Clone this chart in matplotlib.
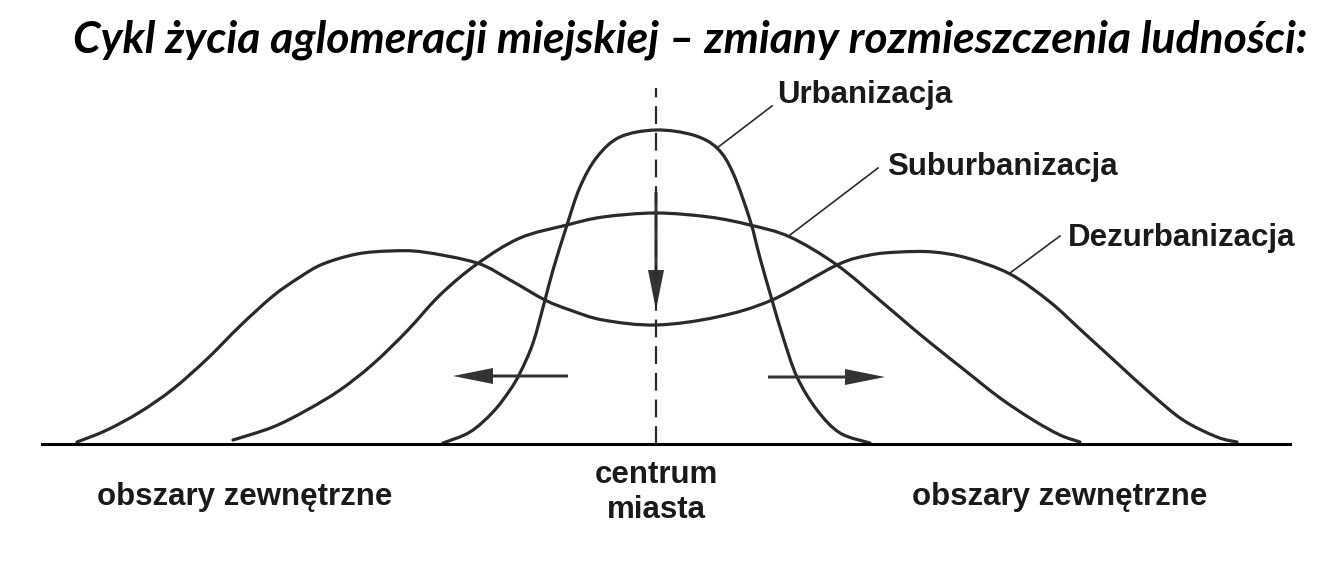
import matplotlib
matplotlib.use("Agg")
import matplotlib.pyplot as plt
from matplotlib.path import Path
from matplotlib.patches import PathPatch

# os x: odleglosc od centrum miasta, os y: gestosc zaludnienia
urb_x = [-213, -186, -163, -146, -136, -123, -111, -103, -89, -76, -59, -36, 0,
         37, 61, 77, 94, 104, 116, 127, 141, 161, 184, 214]
urb_y = [1, 12, 32, 54, 71, 101, 144, 174, 219, 257, 287, 307, 314,
         309, 296, 271, 224, 186, 144, 107, 67, 34, 11, 1]

sub_x = [-423, -383, -349, -316, -283, -249, -216, -179, -136, -89, -53, 0,
         53, 94, 134, 181, 227, 254, 277, 311, 344, 377, 404, 424]
sub_y = [4, 17, 34, 54, 80, 113, 149, 180, 206, 219, 227, 231,
         227, 219, 207, 179, 141, 118, 99, 72, 46, 24, 9, 2]

dez_x = [-579, -549, -516, -483, -449, -416, -383, -356, -333, -299,
         -266, -233, -179, -146, -111, -86, -53, 0, 61, 116, 181, 214,
         244, 277, 311, 354, 394, 427, 461, 494, 527, 561, 581]
dez_y = [2, 14, 32, 55, 85, 118, 148, 167, 180, 190,
         193, 192, 181, 164, 144, 134, 124, 119, 127, 144, 179, 189,
         192, 192, 186, 170, 142, 112, 81, 51, 24, 7, 2]

title = "Cykl życia aglomeracji miejskiej – zmiany rozmieszczenia ludności:"
curve_names = ["Urbanizacja", "Suburbanizacja", "Dezurbanizacja"]
side_label = "obszary zewnętrzne"

ink = "#2a2a2a"
lab_font = dict(family="Liberation Sans", fontweight="bold", fontsize=22.5, color="#1a1a1a")


def smooth_path(xs, ys):
    # gladka krzywa (Catmull-Rom -> Bezier) przez odczytane punkty
    pts = list(zip(xs, ys))
    verts = [pts[0]]
    codes = [Path.MOVETO]
    n = len(pts)
    for i in range(n - 1):
        p0 = pts[max(i - 1, 0)]
        p1 = pts[i]
        p2 = pts[i + 1]
        p3 = pts[min(i + 2, n - 1)]
        c1 = (p1[0] + (p2[0] - p0[0]) / 6.0, p1[1] + (p2[1] - p0[1]) / 6.0)
        c2 = (p2[0] - (p3[0] - p1[0]) / 6.0, p2[1] - (p3[1] - p1[1]) / 6.0)
        verts += [c1, c2, p2]
        codes += [Path.CURVE4] * 3
    return Path(verts, codes)


fig = plt.figure(figsize=(13.32, 5.66), dpi=100)
ax = fig.add_axes([0, 0, 1, 1])
ax.set_xlim(-656, 676)
ax.set_ylim(-122, 444)
ax.axis("off")

# krzywe
for xs, ys in [(urb_x, urb_y), (sub_x, sub_y), (dez_x, dez_y)]:
    ax.add_patch(PathPatch(smooth_path(xs, ys), fill=False, edgecolor=ink, lw=2.3,
                           joinstyle="round", capstyle="round"))

# os pozioma i linia centrum
ax.plot([-614, 634], [0, 0], color="black", lw=2.2)
ax.plot([0, 0], [0, 356], color=ink, lw=1.6, dashes=(8, 4))

# strzalki
arrow_kw = dict(width=3, head_width=16, head_length=40, length_includes_head=True,
                color="#333333", lw=0)
ax.arrow(0, 252, 0, -118, **arrow_kw)
ax.arrow(-88, 68, -115, 0, **arrow_kw)
ax.arrow(112, 67, 117, 0, **arrow_kw)

# odnosniki do nazw
leaders = [((61, 296), (116, 338)), ((134, 209), (222, 276)), ((354, 171), (404, 208))]
label_pos = [(121, 341), (231, 269), (412, 198)]
for (p0, p1), name, pos in zip(leaders, curve_names, label_pos):
    ax.plot([p0[0], p1[0]], [p0[1], p1[1]], color=ink, lw=1.2)
    ax.text(pos[0], pos[1], name, ha="left", va="baseline", **lab_font)

ax.text(-411, -61, side_label, ha="center", va="baseline", **lab_font)
ax.text(404, -61, side_label, ha="center", va="baseline", **lab_font)
ax.text(0, -39, "centrum", ha="center", va="baseline", **lab_font)
ax.text(0, -74, "miasta", ha="center", va="baseline", **lab_font)

ax.text(34, 392, title, ha="center", va="baseline", family="Lato",
        fontweight="bold", fontstyle="italic", fontsize=32, color="black")

fig.savefig("out.png", dpi=100, facecolor="white")
